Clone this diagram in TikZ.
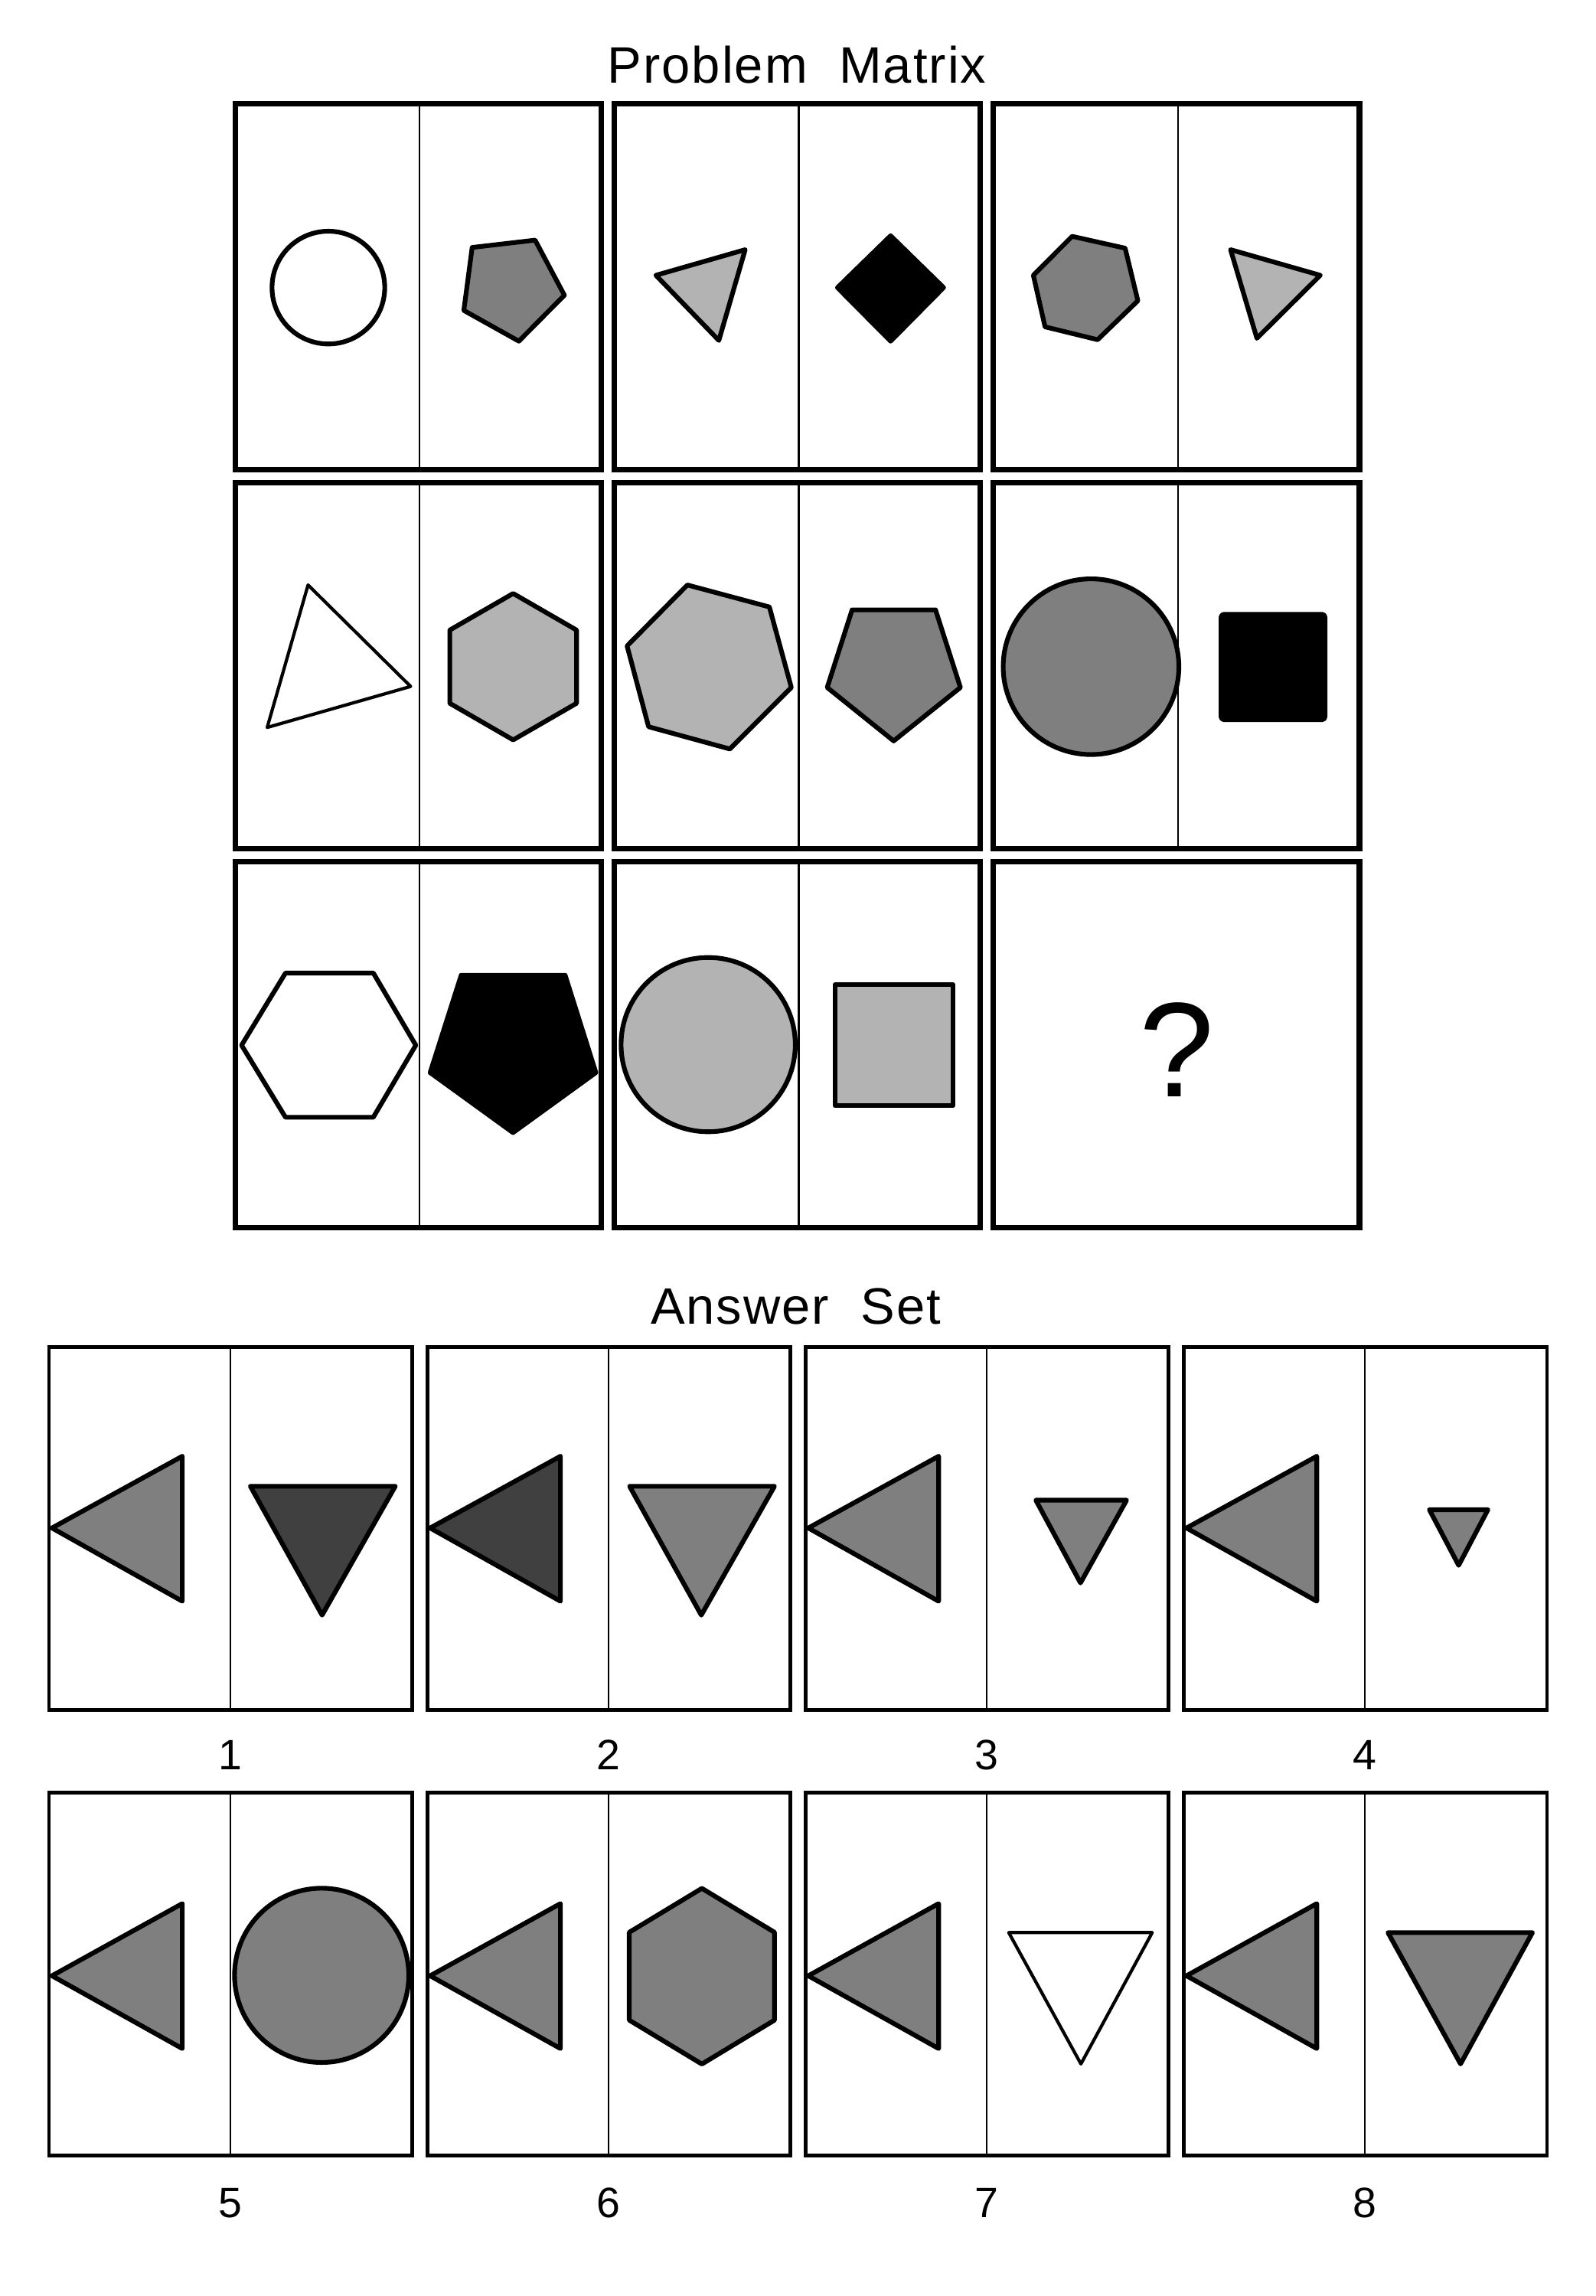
\documentclass[tikz,border=0pt]{standalone}
\usepackage{fontspec}
\setmainfont{Liberation Sans}
\newfontfamily\spacedfont[LetterSpace=3]{Liberation Sans}
\definecolor{shademid}{HTML}{7F7F7F}
\definecolor{shadelight}{HTML}{B3B3B3}
\definecolor{shadedark}{HTML}{404040}
\begin{document}
\begin{tikzpicture}[x=1pt, y=-1pt,
    panel/.style={line width=3.8pt},
    abox/.style={line width=2.5pt},
    rule/.style={line width=1.1pt},
    shp/.style={line width=3.2pt, line join=round},
    thinshp/.style={line width=2.2pt, line join=round},
    title/.style={anchor=base, inner sep=0pt, font=\spacedfont\fontsize{35}{42}\selectfont},
    numlab/.style={anchor=base, inner sep=0pt, font=\fontsize{29}{35}\selectfont}]
    \useasboundingbox (0,0) rectangle (1090,1568);
    \path[fill=white] (0,0) rectangle (1090,1568);

    % problem matrix
    \node[title] (mtitle) at (544.3,56.8) {Problem\ \ Matrix};
    \foreach \c in {0,1,2} {
        \foreach \r in {0,1,2} {
            \draw[panel] ({160.7+258.9*\c},{70.8+258.8*\r}) rectangle +(250,250);
        }
    }
    \foreach \c/\r in {0/0,1/0,2/0,0/1,1/1,2/1,0/2,1/2} {
        \draw[rule] ({286.7+258.9*\c},{70.8+258.8*\r}) -- +(0,250);
    }

    \draw[shp, fill=white] (224.3,196.4) circle (38.5);
    \draw[shp, fill=shademid] (322.5,169) -- (365.5,164) -- (385.5,201.6) -- (354.4,233) -- (316.8,212) -- cycle;
    \draw[shp, fill=shadelight] (448,188) -- (509,170.5) -- (491,232.5) -- cycle;
    \draw[shp, fill=black] (608.3,161) -- (644.5,196.4) -- (608.3,233) -- (572,196.4) -- cycle;
    \draw[shp, fill=shademid] (732.3,161.4) -- (768.5,169.5) -- (777.2,205.4) -- (749.7,232) -- (713.8,223.2) -- (705.8,188) -- cycle;
    \draw[shp, fill=shadelight] (840.5,170.5) -- (901.8,188) -- (858.5,231) -- cycle;

    \draw[thinshp, fill=white] (210.4,399.5) -- (280.5,468.8) -- (182.5,496.8) -- cycle;
    \draw[shp, fill=shadelight] (350.5,405.3) -- (393.8,430.3) -- (393.8,480.3) -- (350.5,505.3) -- (307.2,480.3) -- (307.2,430.3) -- cycle;
    \draw[shp, fill=shadelight] (469.5,399.5) -- (525.5,414.5) -- (540.5,469.5) -- (498.5,511.5) -- (443,496.3) -- (428.3,441.1) -- cycle;
    \draw[shp, fill=shademid] (582,416.5) -- (639,416.5) -- (656,469.5) -- (610.4,506) -- (565,469.5) -- cycle;
    \draw[shp, fill=shademid] (745.2,455.3) circle (60);
    \draw[shp, fill=black, rounded corners=2pt] (834,419.5) rectangle (905,491.5);

    \draw[shp, fill=white] (195,664.5) -- (255,664.5) -- (284,713.8) -- (255,763) -- (195,763) -- (165,713.8) -- cycle;
    \draw[shp, fill=black] (315,666) -- (386,666) -- (407,732.5) -- (350.4,773.5) -- (293.8,732.5) -- cycle;
    \draw[shp, fill=shadelight] (483.7,713.4) circle (59.5);
    \draw[shp, fill=shadelight] (570.3,672.5) rectangle (651,755);
    \node[anchor=base, inner sep=0pt, font=\fontsize{92}{110}\selectfont] (qmark) at (804,749) {?};

    % answer set
    \node[title] (atitle) at (543.5,904) {Answer\ \ Set};
    \foreach \k in {0,...,3} {
        \foreach \r in {0,1} {
            \draw[abox] ({33.5+258.3*\k},{919.8+304.4*\r}) rectangle +(248.2,247.8);
            \draw[rule] ({157.5+258.3*\k},{919.8+304.4*\r}) -- +(0,247.8);
        }
    }

    \draw[shp, fill=shademid] (35.5,1043.5) -- (124.5,994.5) -- (124.5,1093.5) -- cycle;
    \draw[shp, fill=shadedark] (171,1015) -- (270,1015) -- (220,1103) -- cycle;
    \draw[shp, fill=shadedark] (293.8,1043.5) -- (382.8,994.5) -- (382.8,1093.5) -- cycle;
    \draw[shp, fill=shademid] (430,1015) -- (529,1015) -- (479,1103) -- cycle;
    \draw[shp, fill=shademid] (552.1,1043.5) -- (641.1,994.5) -- (641.1,1093.5) -- cycle;
    \draw[shp, fill=shademid] (707.5,1024.5) -- (769.5,1024.5) -- (738,1081) -- cycle;
    \draw[shp, fill=shademid] (810.4,1043.5) -- (899.4,994.5) -- (899.4,1093.5) -- cycle;
    \draw[shp, fill=shademid] (976.3,1031) -- (1016.3,1031) -- (996.3,1069) -- cycle;

    \draw[shp, fill=shademid] (35.5,1349.3) -- (124.5,1300) -- (124.5,1399) -- cycle;
    \draw[shp, fill=shademid] (219.7,1349) circle (59.5);
    \draw[shp, fill=shademid] (293.8,1349.3) -- (382.8,1300) -- (382.8,1399) -- cycle;
    \draw[shp, fill=shademid] (479.4,1289.6) -- (529,1319.6) -- (529,1379.6) -- (479.4,1409.6) -- (429.8,1379.6) -- (429.8,1319.6) -- cycle;
    \draw[shp, fill=shademid] (552.1,1349.3) -- (641.1,1300) -- (641.1,1399) -- cycle;
    \draw[thinshp, fill=white] (689,1319.8) -- (787,1319.8) -- (738.3,1409.5) -- cycle;
    \draw[shp, fill=shademid] (810.4,1349.3) -- (899.4,1300) -- (899.4,1399) -- cycle;
    \draw[shp, fill=shademid] (948,1319.8) -- (1046.7,1319.8) -- (997.6,1409.5) -- cycle;

    \node[numlab] (n1) at (157.5,1208.5) {1};
    \node[numlab] (n2) at (415.8,1208.5) {2};
    \node[numlab] (n3) at (674.1,1208.5) {3};
    \node[numlab] (n4) at (932.4,1208.5) {4};
    \node[numlab] (n5) at (157.5,1514.3) {5};
    \node[numlab] (n6) at (415.8,1514.3) {6};
    \node[numlab] (n7) at (674.1,1514.3) {7};
    \node[numlab] (n8) at (932.4,1514.3) {8};
\end{tikzpicture}
\end{document}
